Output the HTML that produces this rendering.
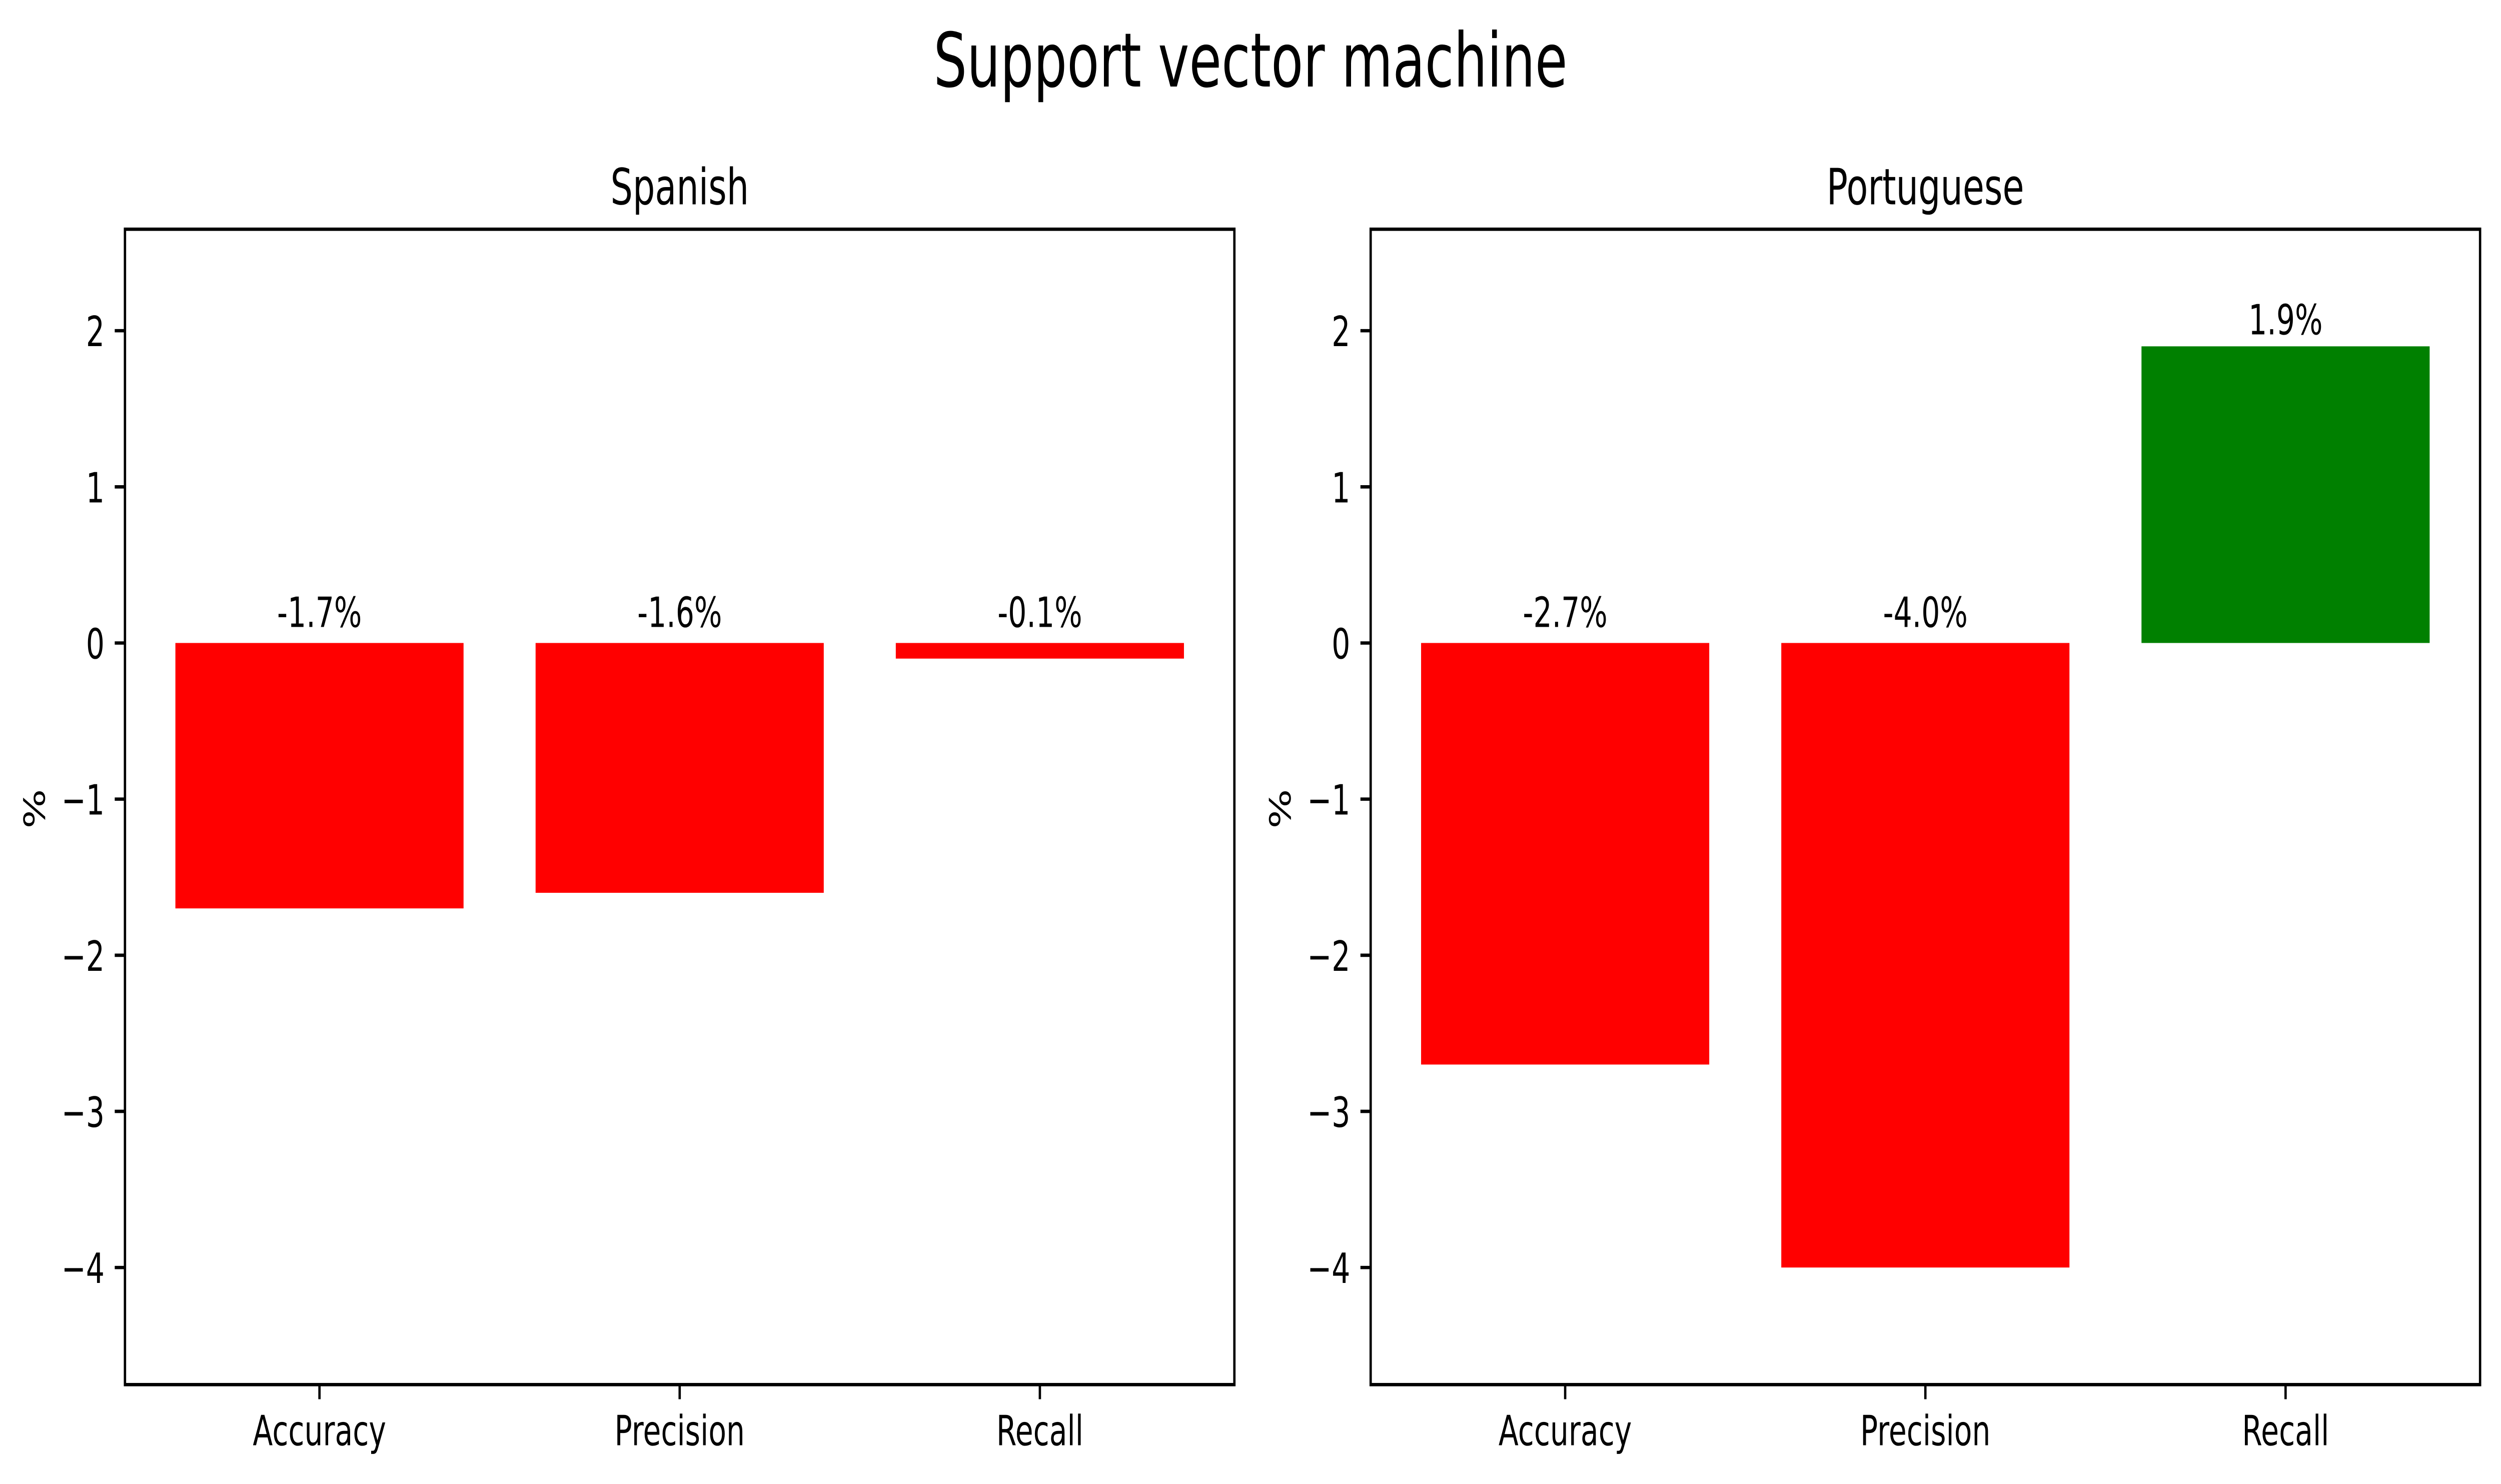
<!DOCTYPE html>
<html lang="en">
<head>
<meta charset="utf-8">
<title>Support vector machine</title>
<style>
  html, body { margin: 0; padding: 0; width: 100%; height: 100%; background: #fff; overflow: hidden; }
  svg { display: block; width: 100vw; height: 100vh; }
  text { font-family: "DejaVu Sans", "Liberation Sans", sans-serif; fill: #000; text-rendering: geometricPrecision; }
</style>
</head>
<body>
<svg id="figure" xmlns="http://www.w3.org/2000/svg" viewBox="0 0 7137 2967" preserveAspectRatio="none">
  <rect x="0" y="0" width="7137" height="2967" fill="#ffffff"/>
  <text x="3568.5" y="173" font-size="150" text-anchor="middle">Support vector machine</text>
</svg>
<script>
const categories = ['Accuracy', 'Precision', 'Recall'];
const spanishValues = [-1.7, -1.6, -0.1];
const portugueseValues = [-2.7, -4.0, 1.9];
const yTickValues = [2, 1, 0, -1, -2, -3, -4];
const panelTitles = ['Spanish', 'Portuguese'];
const yDomain = [-4.75, 2.65];
const xDomain = [-0.54, 2.54];
const barWidth = 0.8;

const SVG_NS = 'http://www.w3.org/2000/svg';
const figure = document.getElementById('figure');

function make(tag, attrs, parent, content) {
  const el = document.createElementNS(SVG_NS, tag);
  for (const k in attrs) el.setAttribute(k, attrs[k]);
  if (content !== undefined) el.textContent = content;
  parent.appendChild(el);
  return el;
}

const axesTop = 458.3;
const axesBottom = 2768.3;
const axesWidth = 3165.9;
const lineWidth = 6.67;
const tickLength = 29.17;

function yScale(v) {
  return axesTop + (yDomain[1] - v) / (yDomain[1] - yDomain[0]) * (axesBottom - axesTop);
}

function xScale(axesLeft, v) {
  return axesLeft + (v - xDomain[0]) / (xDomain[1] - xDomain[0]) * axesWidth;
}

function tickText(v) {
  return v < 0 ? '\u2212' + Math.abs(v) : String(v);
}

function drawPanel(key, title, values, axesLeft) {
  const g = make('g', {}, figure);
  
  

  const t = make('text', { x: axesLeft + axesWidth / 2, y: 408.3, 'font-size': 100, 'text-anchor': 'middle' }, g, title);
  
  

  const labelX = axesLeft - 228.6;
  const yl = make('text', { x: labelX, y: 1617, 'font-size': 83.33, 'text-anchor': 'middle', transform: 'rotate(-90 ' + labelX + ' 1617)' }, g, '%');
  
  

  values.forEach(function (v, i) {
    const left = xScale(axesLeft, i - barWidth / 2);
    const right = xScale(axesLeft, i + barWidth / 2);
    const y0 = yScale(0);
    const yv = yScale(v);
    const bar = make('rect', {
      x: left,
      y: Math.min(y0, yv),
      width: right - left,
      height: Math.abs(yv - y0),
      fill: v < 0 ? '#ff0000' : '#008000'
    }, g);
    
    

    const baseline = yScale(Math.max(v, 0)) - (v < 0 ? 32 : 24);
    const lab = make('text', { x: xScale(axesLeft, i), y: baseline, 'font-size': 83.33, 'text-anchor': 'middle' }, g, v.toFixed(1) + '%');
    
    
  });

  yTickValues.forEach(function (v) {
    const y = yScale(v);
    const tick = make('line', { x1: axesLeft - tickLength, x2: axesLeft, y1: y, y2: y, stroke: '#000', 'stroke-width': lineWidth }, g);
    
    
    const lab = make('text', { x: axesLeft - 58.3, y: y + 31, 'font-size': 83.33, 'text-anchor': 'end' }, g, tickText(v));
    
    
  });

  categories.forEach(function (c, i) {
    const x = xScale(axesLeft, i);
    const tick = make('line', { x1: x, x2: x, y1: axesBottom, y2: axesBottom + tickLength, stroke: '#000', 'stroke-width': lineWidth }, g);
    
    
    const lab = make('text', { x: x, y: 2889.5, 'font-size': 83.33, 'text-anchor': 'middle' }, g, c);
    
    
  });

  const frame = make('rect', {
    x: axesLeft,
    y: axesTop,
    width: axesWidth,
    height: axesBottom - axesTop,
    fill: 'none',
    stroke: '#000',
    'stroke-width': lineWidth
  }, g);
  
  
}

drawPanel('spanish', panelTitles[0], spanishValues, 356.6);
drawPanel('portuguese', panelTitles[1], portugueseValues, 3911.4);
</script>
</body>
</html>
